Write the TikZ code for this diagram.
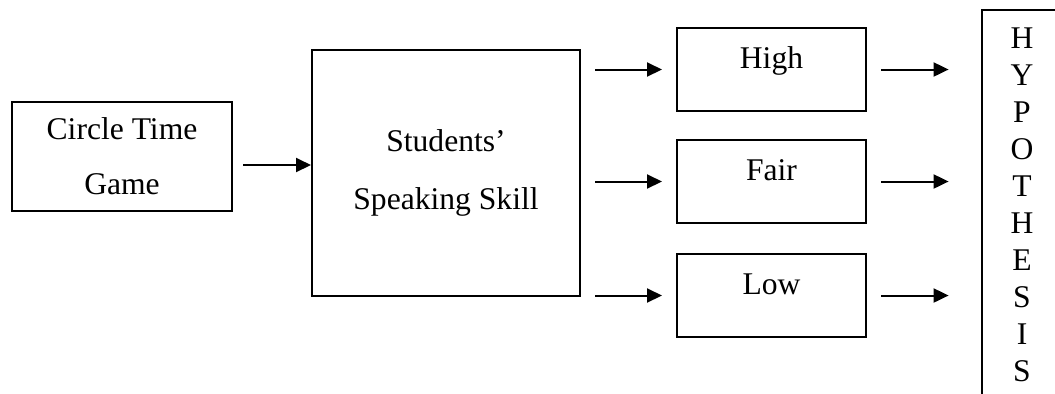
\documentclass[tikz,border=0pt]{standalone}
\usepackage{fontspec}
\setmainfont{Liberation Serif}
\usetikzlibrary{arrows.meta}

\begin{document}
\begin{tikzpicture}[x=0.5pt, y=-0.5pt,
  box/.style   = {draw, line width=1pt, align=center, font=\fontsize{15.8}{27.5}\selectfont},
  level/.style = {box, minimum width=94.5pt, minimum height=41.5pt, text height=10.5pt, text depth=12pt},
  arr/.style   = {line width=1pt, -{Triangle[length=7.5pt, width=7pt]}}]
  \clip (0,0) rectangle (1055,393);
  \node[box, minimum width=110pt, minimum height=54.5pt] (game) at (122, 156.5){Circle Time\\Game};
  \node[box, minimum width=134pt, minimum height=123pt, font=\fontsize{15.8}{29}\selectfont]
                                                         (talk) at (446, 173)  {Students’\\Speaking Skill};
  \node[level]                                           (high) at (771.5, 69.5) {High};
  \node[level]                                           (fair) at (771.5,181.5) {Fair};
  \node[level]                                           (low)  at (771.5,295.5) {Low};
  \node[anchor=north, minimum width=40pt, inner ysep=8.5pt, text depth=20pt,
        align=center, font=\fontsize{15.8}{18.5}\selectfont]
                                                         (hyp)  at (1022, 10)  {H\\Y\\P\\O\\T\\H\\E\\S\\I\\S};
  % frame runs off the right and bottom of the page
  \draw[line width=1pt] (hyp.south west) |- ([xshift=20pt]hyp.north east);
  \draw[arr, shorten <=5pt] ([yshift=-4.25pt]game.east) -- ([yshift=-4.25pt]game.east -| talk.west);
  \draw[arr, shorten <=7pt, shorten >=7pt]    (talk.east |- high.west) -- (high.west);
  \draw[arr, shorten <=7pt, shorten >=7pt]    (talk.east |- fair.west) -- (fair.west);
  \draw[arr, shorten <=7pt, shorten >=7pt]    (talk.east |- low.west)  -- (low.west);
  \draw[arr, shorten <=7pt, shorten >=16.5pt] (high.east) -- (high.east -| hyp.west);
  \draw[arr, shorten <=7pt, shorten >=16.5pt] (fair.east) -- (fair.east -| hyp.west);
  \draw[arr, shorten <=7pt, shorten >=16.5pt] (low.east)  -- (low.east -| hyp.west);
\end{tikzpicture}
\end{document}
